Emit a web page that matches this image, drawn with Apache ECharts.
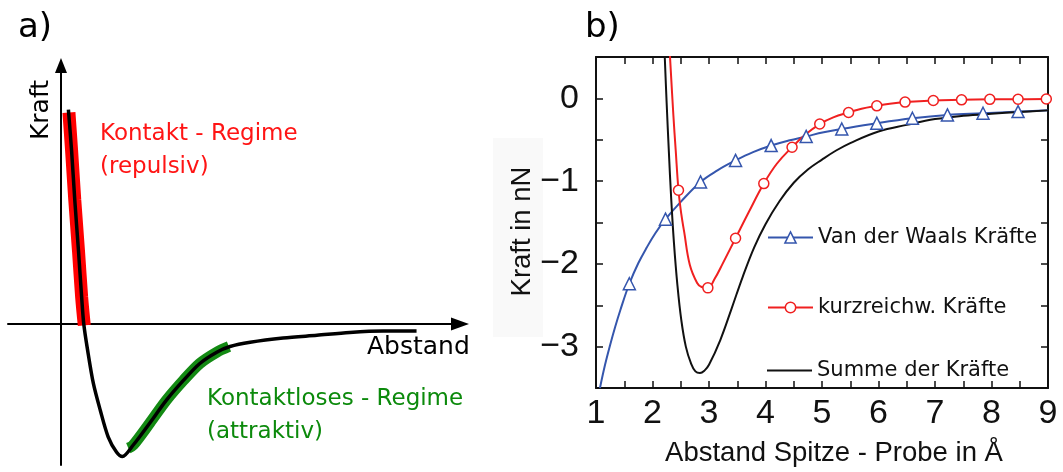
<!DOCTYPE html>
<html>
<head>
<meta charset="utf-8">
<script src="https://cdn.jsdelivr.net/npm/echarts@6/dist/echarts.min.js"></script>
<style>
  html, body { margin: 0; padding: 0; background: #fff; }
  #chart { width: 1063px; height: 472px; }
</style>
</head>
<body>
<div id="chart"></div>
<script>
// ---------- Panel a: schematic force–distance curve (arbitrary units) ----------
const schemeCurve = [
  [0.14, 1.52], [0.20, 1.23], [0.26, 0.88], [0.33, 0.52], [0.39, 0.19], [0.43, 0.00],
  [0.50, -0.18], [0.61, -0.42], [0.74, -0.61], [0.89, -0.80], [1.05, -0.91], [1.16, -0.94],
  [1.36, -0.86], [1.68, -0.70], [1.99, -0.54], [2.31, -0.40], [2.62, -0.28], [2.94, -0.20],
  [3.19, -0.16], [3.57, -0.13], [4.19, -0.10], [4.83, -0.08], [5.45, -0.06], [6.08, -0.05],
  [6.71, -0.05]
];
const repulsiveBand = [
  [0.15, 1.50], [0.20, 1.23], [0.26, 0.88], [0.33, 0.52], [0.39, 0.19], [0.44, -0.01]
];
const attractiveBand = [
  [1.27, -0.88], [1.36, -0.86], [1.68, -0.70], [1.99, -0.54], [2.31, -0.40],
  [2.62, -0.28], [2.94, -0.20], [3.17, -0.16]
];

// ---------- Panel b: forces between tip and sample ----------
const seriesNames = ['Van der Waals Kräfte', 'kurzreichw. Kräfte', 'Summe der Kräfte'];
const xTickLabels = [1, 2, 3, 4, 5, 6, 7, 8, 9];
const yTickLabels = [0, -1, -2, -3];

const vdwTrace = [
  [1.07, -3.50], [1.16, -3.22], [1.25, -2.98], [1.34, -2.76], [1.43, -2.56], [1.75, -1.99],
  [1.90, -1.80], [2.05, -1.63], [2.50, -1.25], [3.15, -0.87], [3.78, -0.65], [4.41, -0.51],
  [5.03, -0.41], [9.00, -0.145]
];
const vdwMarkers = [
  [1.59, -2.24], [2.23, -1.46], [2.85, -1.01], [3.47, -0.75], [4.10, -0.57], [4.72, -0.46],
  [5.35, -0.37], [5.97, -0.30], [6.60, -0.24], [7.22, -0.20], [7.85, -0.18], [8.47, -0.16]
];
const shortTrace = [
  [2.30, 0.62], [2.37, -0.21], [2.41, -0.62], [2.51, -1.40], [2.56, -1.61], [2.66, -2.01],
  [2.79, -2.23], [2.87, -2.28], [3.10, -2.18], [3.24, -2.00], [3.70, -1.38], [4.20, -0.79],
  [4.70, -0.44], [5.20, -0.23], [5.70, -0.125], [6.20, -0.065]
];
const shortMarkers = [
  [2.46, -1.11], [2.98, -2.29], [3.47, -1.69], [3.97, -1.03], [4.47, -0.59], [4.96, -0.31],
  [5.47, -0.17], [5.97, -0.09], [6.47, -0.045], [6.97, -0.025], [7.47, -0.018], [7.97, -0.012],
  [8.47, -0.010], [8.97, -0.008]
];
const sumTrace = [
  [2.21, 0.62], [2.25, -0.05], [2.29, -0.65], [2.33, -1.20], [2.38, -1.75], [2.44, -2.25],
  [2.51, -2.68], [2.59, -3.00], [2.68, -3.20], [2.76, -3.30], [2.84, -3.32], [2.92, -3.29],
  [3.00, -3.22], [3.20, -2.92], [3.40, -2.54], [3.60, -2.15], [3.80, -1.80], [4.00, -1.52],
  [4.25, -1.24], [4.50, -1.02], [4.75, -0.86], [5.00, -0.74], [5.25, -0.63], [5.50, -0.54],
  [6.00, -0.40], [6.50, -0.32], [7.00, -0.25], [7.50, -0.21], [8.00, -0.185], [8.50, -0.165],
  [9.00, -0.145]
];

const BLUE = '#3556ad';
const RED = '#f02020';
const BLACK = '#111111';
const SANS = 'Liberation Sans';
const DEJAVU = 'DejaVu Sans';

// merge a traced curve with its marked points; only marked points carry a symbol
function withMarkers(trace, markers) {
  const pts = trace.map(p => ({ value: p, symbol: 'none' }))
    .concat(markers.map(p => ({ value: p })));
  pts.sort((a, b) => a.value[0] - b.value[0]);
  return pts;
}

function tickText(v) {
  if (yTickLabels.indexOf(v) < 0 && xTickLabels.indexOf(v) < 0) return '';
  return v < 0 ? '\u2212' + Math.abs(v) : String(v);
}

const frameTick = { show: true, inside: true, length: 7, lineStyle: { color: BLACK, width: 1.5 } };
const frameLine = { show: true, onZero: false, lineStyle: { color: BLACK, width: 2 } };
const legendText = { fontFamily: DEJAVU, fontSize: 21, color: BLACK };

const chart = echarts.init(document.getElementById('chart'), null, { renderer: 'canvas' });

chart.setOption({
  animation: false,
  backgroundColor: '#ffffff',
  graphic: [
    { type: 'rect', z: -10, shape: { x: 493, y: 138, width: 50, height: 199 }, style: { fill: '#f9f9f9' } },
    { type: 'text', x: 18, y: 28, style: { text: 'a)', font: '34px "DejaVu Sans"', fill: '#000', textVerticalAlign: 'middle' } },
    { type: 'text', x: 585, y: 28, style: { text: 'b)', font: '34px "DejaVu Sans"', fill: '#000', textVerticalAlign: 'middle' } },
    { type: 'text', x: 41, y: 110, rotation: Math.PI / 2,
      style: { text: 'Kraft', font: '25px "DejaVu Sans"', fill: '#000', textAlign: 'center', textVerticalAlign: 'middle' } },
    { type: 'text', x: 100, y: 134.5, style: { text: 'Kontakt - Regime', font: '23px "DejaVu Sans"', fill: '#ff1414', textVerticalAlign: 'middle' } },
    { type: 'text', x: 100, y: 167.5, style: { text: '(repulsiv)', font: '23px "DejaVu Sans"', fill: '#ff1414', textVerticalAlign: 'middle' } },
    { type: 'text', x: 367, y: 347.5, style: { text: 'Abstand', font: '25px "DejaVu Sans"', fill: '#000', textVerticalAlign: 'middle' } },
    { type: 'text', x: 207, y: 398.7, style: { text: 'Kontaktloses - Regime', font: '23px "DejaVu Sans"', fill: '#0c8a0c', textVerticalAlign: 'middle' } },
    { type: 'text', x: 207, y: 431.7, style: { text: '(attraktiv)', font: '23px "DejaVu Sans"', fill: '#0c8a0c', textVerticalAlign: 'middle' } }
  ],
  grid: [
    { left: 8, top: 65.5, width: 452, height: 399.5, show: false },
    { left: 596, top: 57, width: 452, height: 334, show: false }
  ],
  legend: [
    { data: [seriesNames[0]], left: 767, top: 227, padding: 0, itemWidth: 45, itemHeight: 14,
      selectedMode: false, textStyle: legendText,
      itemStyle: { color: '#ffffff', borderColor: BLUE, borderWidth: 1.5 } },
    { data: [seriesNames[1]], left: 767, top: 297, padding: 0, itemWidth: 45, itemHeight: 13,
      selectedMode: false, textStyle: legendText,
      itemStyle: { color: '#ffffff', borderColor: RED, borderWidth: 1.5 } },
    { data: [{ name: seriesNames[2], icon: 'rect' }], left: 767, top: 360, padding: 0, itemWidth: 45, itemHeight: 2,
      selectedMode: false, itemStyle: { color: BLACK }, textStyle: legendText }
  ],
  xAxis: [
    { gridIndex: 0, type: 'value', min: -1, max: 7.53,
      axisLine: { show: true, onZero: true, symbol: ['none', 'triangle'], symbolSize: [13, 18],
        lineStyle: { color: '#000', width: 2 } },
      axisTick: { show: false }, axisLabel: { show: false }, splitLine: { show: false } },
    { gridIndex: 1, type: 'value', position: 'bottom', min: 1, max: 9, interval: 0.5,
      axisLine: frameLine, axisTick: frameTick, splitLine: { show: false },
      axisLabel: { formatter: tickText, fontFamily: SANS, fontSize: 34, color: BLACK, margin: 9 },
      name: 'Abstand Spitze - Probe in \u00C5', nameLocation: 'middle', nameGap: 51,
      nameTextStyle: { fontFamily: SANS, fontSize: 27.5, color: BLACK, padding: [0, 0, 0, 24] } },
    { gridIndex: 1, type: 'value', position: 'top', min: 1, max: 9, interval: 0.5,
      axisLine: frameLine, axisTick: frameTick, axisLabel: { show: false }, splitLine: { show: false } }
  ],
  yAxis: [
    { gridIndex: 0, type: 'value', min: -1, max: 1.833,
      axisLine: { show: true, onZero: true, symbol: ['none', 'triangle'], symbolSize: [12, 15],
        lineStyle: { color: '#000', width: 2 } },
      axisTick: { show: false }, axisLabel: { show: false }, splitLine: { show: false } },
    { gridIndex: 1, type: 'value', position: 'left', min: -3.5, max: 0.5, interval: 0.5,
      axisLine: frameLine, axisTick: frameTick, splitLine: { show: false },
      axisLabel: { formatter: tickText, fontFamily: SANS, fontSize: 34, color: BLACK, margin: 17 },
      name: 'Kraft in nN', nameLocation: 'middle', nameGap: 58,
      nameTextStyle: { fontFamily: SANS, fontSize: 27.5, color: BLACK, padding: [0, 18, 0, 0] } },
    { gridIndex: 1, type: 'value', position: 'right', min: -3.5, max: 0.5, interval: 0.5,
      axisLine: frameLine, axisTick: frameTick, axisLabel: { show: false }, splitLine: { show: false } }
  ],
  series: [
    // panel a
    { type: 'line', name: 'repulsiv', xAxisIndex: 0, yAxisIndex: 0, data: repulsiveBand,
      symbol: 'none', smooth: 0.3, lineStyle: { color: '#ff0000', width: 13 }, z: 1, silent: true },
    { type: 'line', name: 'attraktiv', xAxisIndex: 0, yAxisIndex: 0, data: attractiveBand,
      symbol: 'none', smooth: 0.3, lineStyle: { color: '#138a13', width: 11 }, z: 1, silent: true },
    { type: 'line', name: 'Kraftkurve', xAxisIndex: 0, yAxisIndex: 0, data: schemeCurve,
      symbol: 'none', smooth: 0.3, lineStyle: { color: '#000', width: 3.5 }, z: 2, silent: true },
    // panel b
    { type: 'line', name: seriesNames[0], xAxisIndex: 1, yAxisIndex: 1,
      data: withMarkers(vdwTrace, vdwMarkers), smooth: 0.4, showAllSymbol: true,
      symbol: 'triangle', symbolSize: 12,
      lineStyle: { color: BLUE, width: 2 },
      itemStyle: { color: '#ffffff', borderColor: BLUE, borderWidth: 1.5 } },
    { type: 'line', name: seriesNames[1], xAxisIndex: 1, yAxisIndex: 1,
      data: withMarkers(shortTrace, shortMarkers), smooth: 0.4, showAllSymbol: true,
      symbol: 'circle', symbolSize: 10,
      lineStyle: { color: RED, width: 2 },
      itemStyle: { color: '#ffffff', borderColor: RED, borderWidth: 1.5 } },
    { type: 'line', name: seriesNames[2], xAxisIndex: 1, yAxisIndex: 1,
      data: sumTrace, smooth: 0.4, symbol: 'none',
      lineStyle: { color: BLACK, width: 2 }, itemStyle: { color: BLACK } }
  ]
});
</script>
</body>
</html>
